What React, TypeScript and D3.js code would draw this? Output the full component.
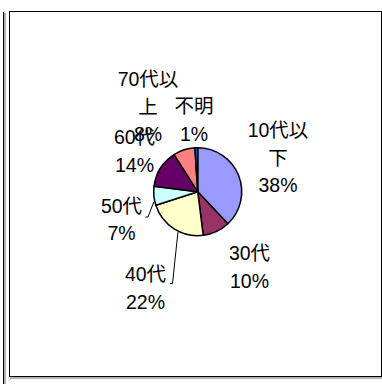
import React from "react";
import * as d3 from "d3";

const categories = ["10代以下", "30代", "40代", "50代", "60代", "70代以上", "不明"];
const values = [38, 10, 22, 7, 14, 8, 1];
const colors = ["#9999FF", "#993366", "#FFFFCC", "#CCFFFF", "#660066", "#FF8080", "#0066CC"];

// label layout: center x and first baseline (absolute px)
const labelLayout: [number, number][] = [
  [278, 137],
  [249.5, 260],
  [145.5, 281],
  [121.5, 212.5],
  [134.5, 144],
  [148, 86],
  [194, 113],
];

// leader lines: slice index, fraction along slice, label-side points
const leaders: { i: number; t: number; pts: [number, number][] }[] = [
  { i: 2, t: 0.42, pts: [[170, 283.5], [172.5, 283.5]] },
  { i: 3, t: 0.2, pts: [[145.5, 217], [148, 217]] },
];

const W = 382;
const H = 384;
const cx = 197.7;
const cy = 191.7;
const R = 44;
const LINE = 27.5;

function wrap(s: string): string[] {
  const chars = Array.from(s);
  const out: string[] = [];
  for (let i = 0; i < chars.length; i += 4) out.push(chars.slice(i, i + 4).join(""));
  return out;
}

export default function App() {
  const pie = d3
    .pie<number>()
    .sort(null)
    .startAngle(0)
    .endAngle(2 * Math.PI)
    .value((d) => d);
  const arcs = pie(values);
  const arc = d3.arc<d3.PieArcDatum<number>>().innerRadius(0).outerRadius(R);

  return (
    <svg
      width={W}
      height={H}
      style={{ position: "absolute", left: 0, top: 0, background: "#fff" }}
    >
      <rect x={0} y={0} width={W} height={H} fill="#fff" />
      {/* neighbouring frame edge on the left */}
      <line x1={3.5} y1={12} x2={3.5} y2={H} stroke="#000" strokeWidth={1} />
      <line x1={5} y1={13} x2={5} y2={H} stroke="#999" strokeWidth={1.5} />
      {/* main frame */}
      <line x1={10} y1={378} x2={W} y2={378} stroke="#999" strokeWidth={1.5} />
      <rect x={9.5} y={11.5} width={372} height={365} fill="#fff" stroke="#000" strokeWidth={1} />

      <g transform={`translate(${cx},${cy})`}>
        {arcs.map((a, i) => (
          <path key={i} d={arc(a) || ""} fill={colors[i]} stroke="#000" strokeWidth={1.5} strokeLinejoin="round" />
        ))}
      </g>

      {leaders.map((l, k) => {
        const a = arcs[l.i];
        const ang = a.startAngle + (a.endAngle - a.startAngle) * l.t;
        const px = cx + (R + 1) * Math.sin(ang);
        const py = cy - (R + 1) * Math.cos(ang);
        const pts = [...l.pts, [px, py]];
        return (
          <polyline
            key={k}
            points={pts.map((p) => p.join(",")).join(" ")}
            fill="none"
            stroke="#000"
            strokeWidth={1}
          />
        );
      })}

      {categories.map((c, i) => {
        const lines = [...wrap(c), `${values[i]}%`];
        const [lx, ly] = labelLayout[i];
        return (
          <text
            key={i}
            textAnchor="middle"
            fontFamily="'Liberation Sans', 'Noto Sans CJK JP', sans-serif"
            fontSize={19.5}
            fill="#000"
          >
            {lines.map((t, j) => (
              <tspan key={j} x={lx} y={ly + j * LINE}>
                {t}
              </tspan>
            ))}
          </text>
        );
      })}
    </svg>
  );
}
